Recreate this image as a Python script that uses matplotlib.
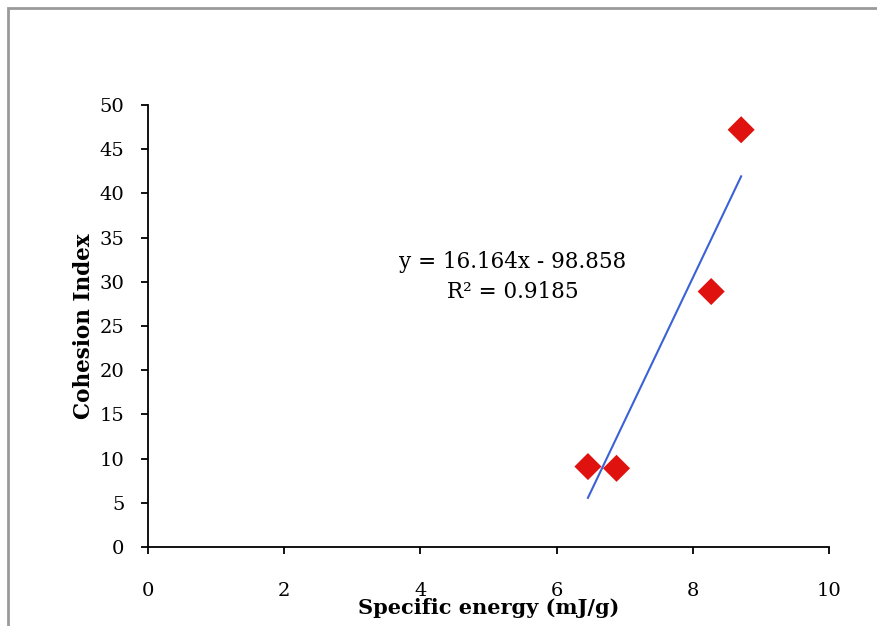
import matplotlib
matplotlib.use("Agg")
import matplotlib.pyplot as plt
import numpy as np
from matplotlib.patches import Rectangle

specific_energy = [6.46, 6.88, 8.27, 8.71]
cohesion_index = [9.1, 8.9, 28.9, 47.2]
trend_slope = 16.164
trend_intercept = -98.858
r_squared = 0.9185
x_ticks = [0, 2, 4, 6, 8, 10]
y_ticks = [0, 5, 10, 15, 20, 25, 30, 35, 40, 45, 50]

plt.rcParams['font.family'] = ['DejaVu Serif']

W, H = 877, 626
fig = plt.figure(figsize=(W / 100, H / 100), dpi=100)
fig.patch.set_facecolor('white')

# outer chart border
fig.patches.append(Rectangle((8 / W, -0.05), 1.2, 1 - 8 / H + 0.05,
                             transform=fig.transFigure, fill=False,
                             edgecolor='#9a9a9a', linewidth=2.0))

left, right = 148 / W, 829 / W
bottom, top = 1 - 547 / H, 1 - 105 / H
ax = fig.add_axes([left, bottom, right - left, top - bottom])
ax.set_xlim(0, 10)
ax.set_ylim(0, 50)

for s in ['top', 'right']:
    ax.spines[s].set_visible(False)
for s in ['left', 'bottom']:
    ax.spines[s].set_linewidth(1.3)
    ax.spines[s].set_color('black')

ax.set_xticks(x_ticks)
ax.set_yticks(y_ticks)
ax.tick_params(axis='both', direction='out', length=5, width=1.3,
               labelsize=14, colors='black')
ax.tick_params(axis='x', pad=20)
ax.tick_params(axis='y', pad=12)

xs = np.array([min(specific_energy), max(specific_energy)])
ax.plot(xs, trend_slope * xs + trend_intercept, color='#3a62d6', lw=1.5,
        zorder=2, clip_on=False)
ax.scatter(specific_energy, cohesion_index, marker='D', s=190,
           color='#e0120f', edgecolors='none', zorder=3, clip_on=False)

ax.text(5.36, 32.2, f"y = {trend_slope}x - {abs(trend_intercept)}",
        ha='center', va='center', fontsize=15.5)
ax.text(5.36, 28.8, f"R\u00b2 = {r_squared}", ha='center', va='center',
        fontsize=15.5)

ax.set_xlabel("Specific energy (mJ/g)", fontsize=15, fontweight='bold',
              labelpad=-1)
ax.set_ylabel("Cohesion Index", fontsize=15.5, fontweight='bold', labelpad=3)

fig.savefig("out.png", dpi=100)
